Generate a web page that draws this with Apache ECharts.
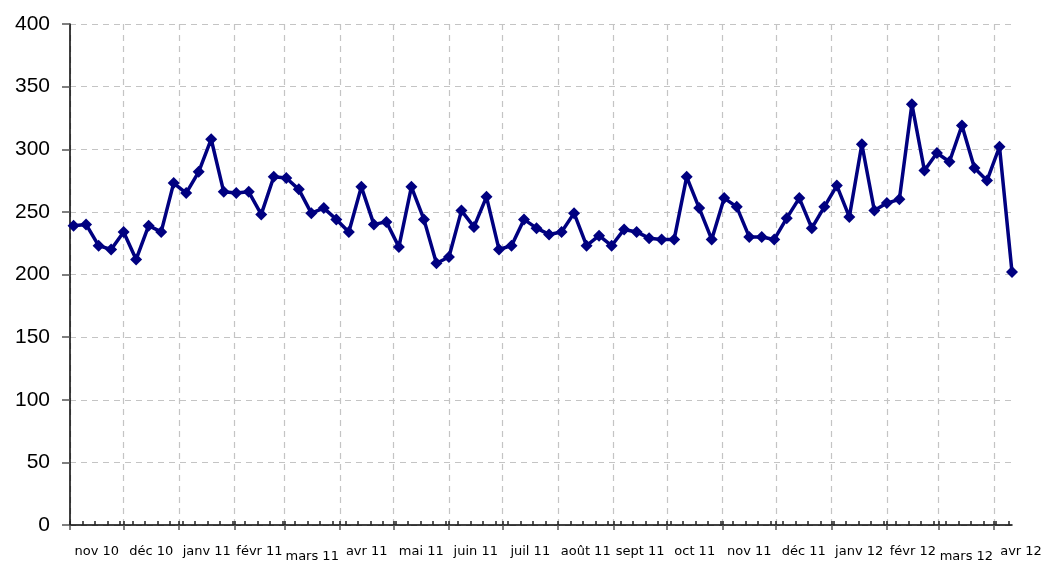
<!DOCTYPE html>
<html>
<head>
<meta charset="utf-8">
<script src="https://cdn.jsdelivr.net/npm/echarts@6/dist/echarts.min.js"></script>
<style>
  html, body { margin: 0; padding: 0; background: #fff; }
  #chart { width: 1045px; height: 562px; }
</style>
</head>
<body>
<div id="chart"></div>
<script>
// libellés des mois (axe des dates)
const monthLabels = ['nov 10', 'déc 10', 'janv 11', 'févr 11', 'mars 11', 'avr 11', 'mai 11', 'juin 11',
  'juil 11', 'août 11', 'sept 11', 'oct 11', 'nov 11', 'déc 11', 'janv 12', 'févr 12', 'mars 12', 'avr 12'];
// valeurs hebdomadaires, à partir du 3 nov 2010
const weeklyValues = [239, 240, 223, 220, 234, 212, 239, 234, 273, 265, 282, 308, 266, 265, 266, 248,
  278, 277, 268, 249, 253, 244, 234, 270, 240, 242, 222, 270, 244, 209, 214, 251, 238, 262, 220, 223,
  244, 237, 232, 234, 249, 223, 231, 223, 236, 234, 229, 228, 228, 278, 253, 228, 261, 254, 230, 230,
  228, 245, 261, 237, 254, 271, 246, 304, 251, 257, 260, 336, 283, 297, 290, 319, 285, 275, 302, 202];
const yTicks = [0, 50, 100, 150, 200, 250, 300, 350, 400];

const DAY = 86400000;
const firstWeek = Date.UTC(2010, 10, 3);
const weekDates = weeklyValues.map((v, i) => firstWeek + i * 7 * DAY);
const xMin = Date.UTC(2010, 10, 1);
const xMax = weekDates[weekDates.length - 1];

// début de chaque mois + milieu pour centrer les libellés
const monthStarts = [];
for (let i = 0; i <= monthLabels.length; i++) monthStarts.push(Date.UTC(2010, 10 + i, 1));
const labelPos = monthLabels.map((m, i) => Math.min((monthStarts[i] + monthStarts[i + 1]) / 2, xMax));
const weekTicks = [];
for (let t = xMin + 7 * DAY; t <= xMax; t += 7 * DAY) weekTicks.push(t);

const chart = echarts.init(document.getElementById('chart'), null, {renderer: 'canvas'});

chart.setOption({
  animation: false,
  grid: {left: 70, right: 33, top: 24, bottom: 37, outerBoundsMode: 'none'},
  xAxis: [
    {
      type: 'value',
      min: xMin,
      max: xMax,
      axisLine: {lineStyle: {color: '#000', width: 1.5}},
      axisTick: {
        inside: false,
        length: 5,
        customValues: monthStarts.filter(t => t <= xMax),
        lineStyle: {color: '#555', width: 1.5}
      },
      splitLine: {
        show: true,
        lineStyle: {color: '#c4c4c4', type: [6, 5], width: 1.2}
      },
      axisLabel: {
        customValues: labelPos,
        margin: 20,
        fontFamily: 'DejaVu Sans',
        fontSize: 13,
        color: '#000',
        formatter: function (val) {
          const i = labelPos.indexOf(val);
          const txt = monthLabels[i];
          if (i === monthLabels.length - 1) return '{last|' + txt + '}';
          if (txt.indexOf('mars') === 0) return '{low|' + txt + '}';
          return txt;
        },
        rich: {
          low: {fontFamily: 'DejaVu Sans', fontSize: 13, color: '#000', padding: [5, 0, 0, 0]},
          last: {fontFamily: 'DejaVu Sans', fontSize: 13, color: '#000', padding: [0, 0, 0, 18]}
        }
      }
    },
    {
      type: 'value',
      min: xMin,
      max: xMax,
      position: 'bottom',
      axisLine: {show: false},
      axisTick: {
        inside: true,
        length: 4,
        customValues: weekTicks.concat(monthStarts.filter(t => t <= xMax)),
        lineStyle: {color: '#222', width: 1.5}
      },
      axisLabel: {show: false},
      splitLine: {show: false}
    }
  ],
  yAxis: {
    type: 'value',
    min: 0,
    max: 400,
    interval: 50,
    axisLine: {show: true, lineStyle: {color: '#000', width: 1.5}},
    axisTick: {show: true, length: 8, lineStyle: {color: '#555', width: 1.5}},
    splitLine: {show: true, lineStyle: {color: '#c4c4c4', type: [6, 5], width: 1.2}},
    axisLabel: {
      margin: 20,
      fontFamily: 'Liberation Sans',
      fontSize: 21,
      color: '#000',
      formatter: v => yTicks.indexOf(v) >= 0 ? String(v) : ''
    }
  },
  series: [
    {
      type: 'line',
      xAxisIndex: 0,
      data: weeklyValues.map((v, i) => [weekDates[i], v]),
      symbol: 'diamond',
      symbolSize: 12,
      lineStyle: {color: '#000080', width: 3.5},
      itemStyle: {color: '#000080'}
    }
  ]
});
</script>
</body>
</html>
